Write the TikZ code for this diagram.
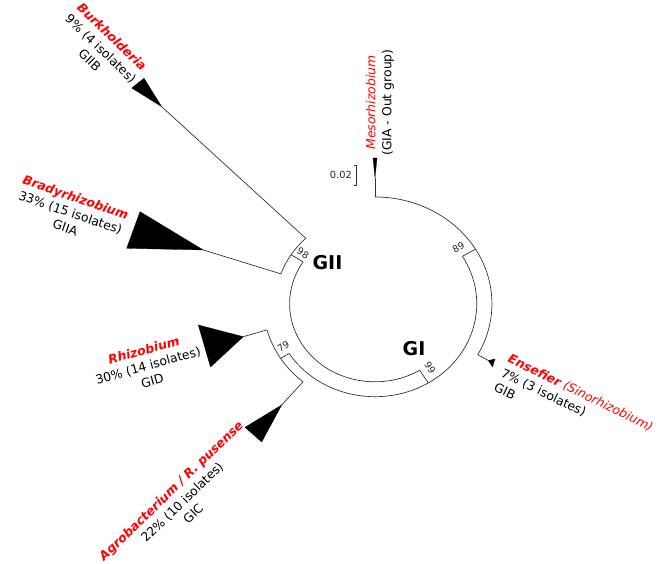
\documentclass[tikz,border=0pt]{standalone}
\usepackage{fontspec}
\setmainfont{DejaVu Sans}
\newcommand\gname[1]{\textcolor{red}{\bfseries\itshape #1}}
\begin{document}
\begin{tikzpicture}[x=1pt,y=1pt,
  branch/.style={line width=0.7pt, draw=black!80, line join=miter},
  clade/.style={fill=black, draw=black, line width=0.3pt, line join=miter},
  taxon/.style={align=center, inner sep=0pt, font=\fontsize{12.4}{16}\selectfont},
  boot/.style={inner sep=0pt, font=\fontsize{9.5}{10}\selectfont, text=black!85},
  group/.style={inner sep=0pt, font=\fontsize{19}{20}\selectfont\bfseries}]
\useasboundingbox (0,0) rectangle (662,564);

% tips of the collapsed clades
\coordinate (burkT)  at (161.7,457.3);
\coordinate (bradyT) at (203.3,314);
\coordinate (rhizoT) at (243.3,227.3);
\coordinate (agroT)  at (281.7,159);
\coordinate (ensT)   at (488.3,203.5);

% tree skeleton (circular layout)
\begin{scope}[shift={(375,260.2)}, xscale=1.095]
  \def\rA{106.8}\def\rB{92.9}\def\rR{78}\def\rG{91}\def\rC{102}
  \coordinate (n89o) at (30.75:\rA);
  \coordinate (n89i) at (30.75:\rB);
  \coordinate (n99o) at (-58.45:\rB);
  \coordinate (n99i) at (-58.45:\rR);
  \coordinate (n98i) at (147.4:\rR);
  \coordinate (n98o) at (147.4:\rG);
  \coordinate (n79i) at (-147.65:\rB);
  \coordinate (n79o) at (-147.65:\rC);
  \coordinate (mesoS) at (90:\rA);
  \coordinate (mesoT) at (90:125.8);
  \coordinate (ensS)  at (-28.5:\rA);
  \coordinate (burkS) at (134:\rG);
  \coordinate (bradyS) at (160.8:\rG);
  \coordinate (rhizoS) at (-165.2:\rC);
  \coordinate (agroS)  at (-130.1:\rC);

  \draw[branch] (mesoS) arc[start angle=90, end angle=-28.5, radius=\rA];
  \draw[branch] (n89i) arc[start angle=30.75, end angle=-147.65, radius=\rB];
  \draw[branch] (n99i) arc[start angle=-58.45, end angle=-212.6, radius=\rR];
  \draw[branch] (bradyS) arc[start angle=160.8, end angle=134, radius=\rG];
  \draw[branch] (rhizoS) arc[start angle=-165.2, end angle=-130.1, radius=\rC];
  \draw[branch] (n89i) -- (n89o);
  \draw[branch] (n99i) -- (n99o);
  \draw[branch] (n98i) -- (n98o);
  \draw[branch] (n79i) -- (n79o);
  \draw[branch] (mesoS) -- (mesoT);
\end{scope}

\draw[branch] (ensS) -- (ensT);
\draw[branch] (burkS) -- (burkT);
\draw[branch] (bradyS) -- (bradyT);
\draw[branch] (rhizoS) -- (rhizoT);
\draw[branch] (agroS) -- (agroT);

% collapsed clades
\fill[clade] (mesoT) -- (373,406) -- (377,406) -- cycle;
\fill[clade] (burkT) -- (131.7,476) -- (144,485.7) -- cycle;
\fill[clade] (bradyT) -- (140,352.3) -- (126.7,315.7) -- cycle;
\fill[clade] (rhizoT) -- (198.3,239) -- (210.5,197) -- cycle;
\fill[clade] (agroT) -- (245,136.7) -- (261.7,122) -- cycle;
\fill[clade] (ensT) -- (495,205) -- (492.5,197) -- cycle;

% scale bar
\coordinate (sbTop) at (356.7,399);
\coordinate (sbBot) at (356.7,379);
\draw[branch, line width=0.6pt] ([xshift=-2.7pt]sbTop) -- (sbTop) -- (sbBot) -- ([xshift=-2.7pt]sbBot);
\node[boot, font=\fontsize{9.8}{10}\selectfont, anchor=east] (sbLabel) at (352,389) {0.02};

% bootstrap support
\node[boot, rotate=-33] (b98) at (303,310.7) {98};
\node[boot, rotate=32]  (b79) at (283.3,217.3) {79};
\node[boot, rotate=30]  (b89) at (458.5,316.5) {89};
\node[boot, rotate=-58] (b99) at (430,196) {99};

% group names
\node[group] (gII) at (327.5,301.5) {GII};
\node[group] (gI)  at (414,215.7) {GI};

% clade labels
\node[taxon, rotate=90] (tMeso) at (380,461.5)
  {\textcolor{red}{\itshape Mesorhizobium}\\(GIA - Out group)};
\node[taxon, rotate=-44] (tBurk) at (101,515.5)
  {\gname{Burkholderia}\\9\% (4 isolates)\\GIIB};
\node[taxon, rotate=-19] (tBrady) at (70.5,351.5)
  {\gname{Bradyrhizobium}\\33\% (15 isolates)\\GIIA};
\node[taxon, rotate=15.5] (tRhizo) at (148,198.4)
  {\gname{Rhizobium}\\30\% (14 isolates)\\GID};
\node[taxon, rotate=44] (tAgro) at (182,62)
  {\gname{Agrobacterium / R. pusense}\\22\% (10 isolates)\\GIC};
\node[taxon, align=left, anchor=west, rotate=-26] (tEns) at (502,192)
  {\textcolor{red}{\itshape\bfseries Ensefier\mdseries{} (Sinorhizobium)}\\7\% (3 isolates)\\GIB};
\end{tikzpicture}
\end{document}
